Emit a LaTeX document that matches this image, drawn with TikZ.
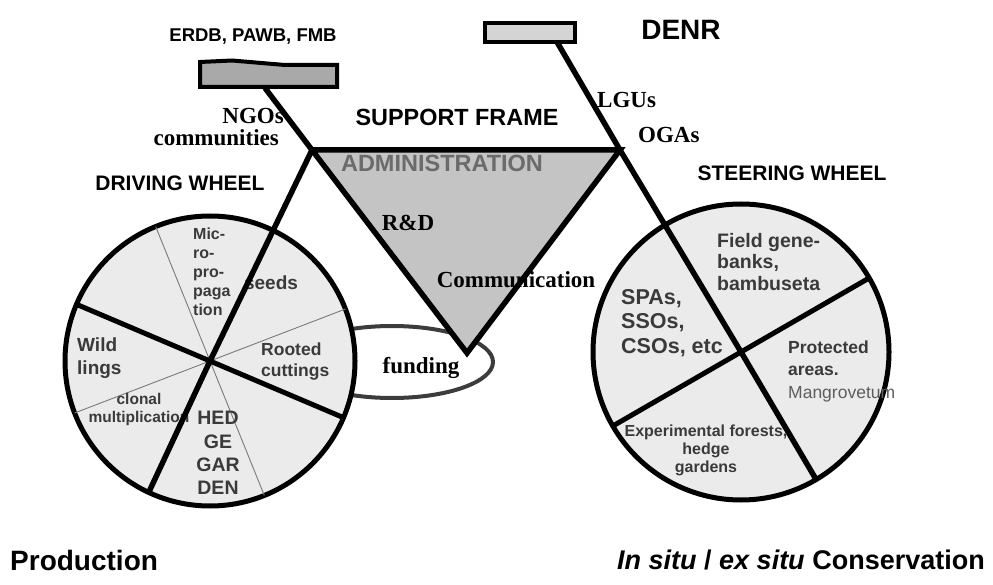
\documentclass[tikz,border=0pt]{standalone}
\usepackage{fontspec}
\setmainfont{Liberation Sans}
\newfontfamily\romanface{Liberation Serif}
\usepackage{xcolor}
\usetikzlibrary{calc}
\definecolor{rimfill}{HTML}{EBEBEB}
\definecolor{framefill}{HTML}{C4C4C4}
\definecolor{saddlefill}{HTML}{A9A9A9}
\definecolor{gripfill}{HTML}{D4D4D4}
\definecolor{pieink}{HTML}{3A3A3A}
\definecolor{admink}{HTML}{6B6B6B}
\definecolor{spokegray}{HTML}{7A7A7A}
\definecolor{loopink}{HTML}{3C3C3C}
\definecolor{mangrove}{HTML}{5E5E5E}
\newcommand{\fsz}[2]{\fontsize{#1}{#2}\selectfont}
\tikzset{
  rim/.style={draw=black,fill=rimfill,line width=5pt},
  tube/.style={draw=black,line width=5.5pt,line join=miter},
  spoke/.style={draw=black,line width=5pt},
  thinspoke/.style={draw=spokegray,line width=0.9pt},
  loopring/.style={draw=loopink,line width=4pt},
  saddle/.style={draw=black,fill=saddlefill,line width=4pt,line join=miter},
  grip/.style={draw=black,fill=gripfill,line width=4pt},
  headlbl/.style={text=black,inner sep=0pt,font=\bfseries\fsz{21}{25}},
  romanlbl/.style={text=black,inner sep=0pt,font=\romanface\bfseries\fsz{23}{26}},
  pielbl/.style={text=pieink,inner sep=0pt,align=left}
}
\begin{document}
\begin{tikzpicture}[x=1pt,y=1pt]
  \useasboundingbox (0,0) rectangle (993,584);
  % hubs and frame joints
  \coordinate (lwhub) at (210,223);
  \coordinate (rwhub) at (741,232);
  \coordinate (seatpost) at (265,496);
  \coordinate (lefttop) at (312,434);
  \coordinate (righttop) at (620,434);
  \coordinate (crank) at (467,231);
  \coordinate (barstem) at (557,542);
  % rim points of the spokes
  \coordinate (lthinA) at ($(lwhub)+(112:145)$);
  \coordinate (lthinB) at ($(lwhub)+(292:145)$);
  \coordinate (lthinC) at ($(lwhub)+(21:145)$);
  \coordinate (lthinD) at ($(lwhub)+(201:145)$);
  \coordinate (lthickA) at ($(lwhub)+(157:145)$);
  \coordinate (lthickB) at ($(lwhub)+(337:145)$);
  \coordinate (lfork) at ($(lwhub)+(245:145)$);
  \coordinate (rthickA) at ($(rwhub)+(30:148)$);
  \coordinate (rthickB) at ($(rwhub)+(210:148)$);
  \coordinate (rfork) at ($(rwhub)+(-59.5:148)$);

  % funding loop behind the wheel
  \draw[loopring] (392,222) ellipse [x radius=101,y radius=36];

  % wheels
  \draw[rim] (lwhub) circle [radius=145];
  \draw[rim] (rwhub) circle [radius=148];
  \draw[thinspoke] (lthinA) -- (lthinB);
  \draw[thinspoke] (lthinC) -- (lthinD);

  % support frame
  \fill[framefill] (lefttop) -- (righttop) -- (crank) -- cycle;
  \draw[saddle] (200,497) -- (200,522) -- (232,523.5) -- (285,519) -- (337,519) -- (337,497) -- cycle;
  \draw[grip] (485,542) rectangle (575,561);

  % titles
  \node[headlbl,font=\bfseries\fsz{18.5}{22}] (agencies) at (253,547) {ERDB, PAWB, FMB};
  \node[headlbl,font=\bfseries\fsz{28}{32}] (denr) at (681,554) {DENR};
  \node[headlbl,font=\bfseries\fsz{23.4}{28}] (frametitle) at (457,467) {SUPPORT FRAME};
  \node[headlbl,text=admink,font=\bfseries\fsz{23.5}{28}] (admin) at (442,421) {ADMINISTRATION};
  \node[headlbl] (driving) at (180,401) {DRIVING WHEEL};
  \node[headlbl] (steering) at (792,411) {STEERING WHEEL};
  \node[romanlbl,anchor=east] (ngos) at (284,468) {NGOs};
  \node[romanlbl,anchor=east] (communities) at (279,446) {communities};
  \node[romanlbl,anchor=west] (lgus) at (597,484) {LGUs};
  \node[romanlbl,anchor=west] (ogas) at (638,449) {OGAs};
  \node[romanlbl] (rnd) at (408,361) {R\&D};
  \node[romanlbl] (comm) at (516,304) {Communication};
  \node[romanlbl] (funding) at (421,216) {funding};

  % production segments
  \node[pielbl,anchor=west,font=\bfseries\fsz{16}{19}] (micro) at (193,312) {Mic-\\ro-\\pro-\\paga\\tion};
  \node[pielbl,font=\bfseries\fsz{19}{23}] (seeds) at (271,301) {seeds};
  \node[pielbl,anchor=west,font=\bfseries\fsz{19}{23}] (wild) at (77,226) {Wild\\lings};
  \node[pielbl,anchor=west,font=\bfseries\fsz{17.5}{21}] (rooted) at (261,222) {Rooted\\cuttings};
  \node[pielbl,align=center,font=\bfseries\fsz{15.5}{18}] (clonal) at (139,175) {clonal\\multiplication};
  \node[pielbl,align=center,font=\bfseries\fsz{19.5}{23.3}] (hedgegarden) at (218,131) {HED\\GE\\GAR\\DEN};

  % conservation segments
  \node[pielbl,anchor=west,font=\bfseries\fsz{19.5}{21.5}] (genebank) at (717,322) {Field gene-\\banks,\\bambuseta};
  \node[pielbl,anchor=west,font=\bfseries\fsz{21.5}{24.5}] (spas) at (621,261) {SPAs,\\SSOs,\\CSOs, etc};
  \node[pielbl,anchor=west,font=\bfseries\fsz{17.5}{22.5}] (protected) at (788,213) {Protected\\areas.\\{\mdseries\color{mangrove}Mangrovetum}};
  \node[pielbl,align=center,font=\bfseries\fsz{16}{18}] (experimental) at (706,134) {Experimental forests,\\hedge\\gardens};

  % footers
  \node[headlbl,anchor=west,font=\bfseries\fsz{28}{32}] (production) at (10,24) {Production};
  \node[headlbl,anchor=east,font=\bfseries\fsz{27}{32}] (conservation) at (985,24) {\textit{In situ} / \textit{ex situ} Conservation};

  % thick spokes and tubes
  \draw[spoke] (lthickA) -- (lthickB);
  \draw[spoke] (rthickA) -- (rthickB);
  \draw[tube] (seatpost) -- (lefttop) -- (crank) -- (righttop) -- (lefttop);
  \draw[tube] (lefttop) -- (lwhub) -- (lfork);
  \draw[tube] (barstem) -- (righttop) -- (rwhub) -- (rfork);
\end{tikzpicture}
\end{document}
